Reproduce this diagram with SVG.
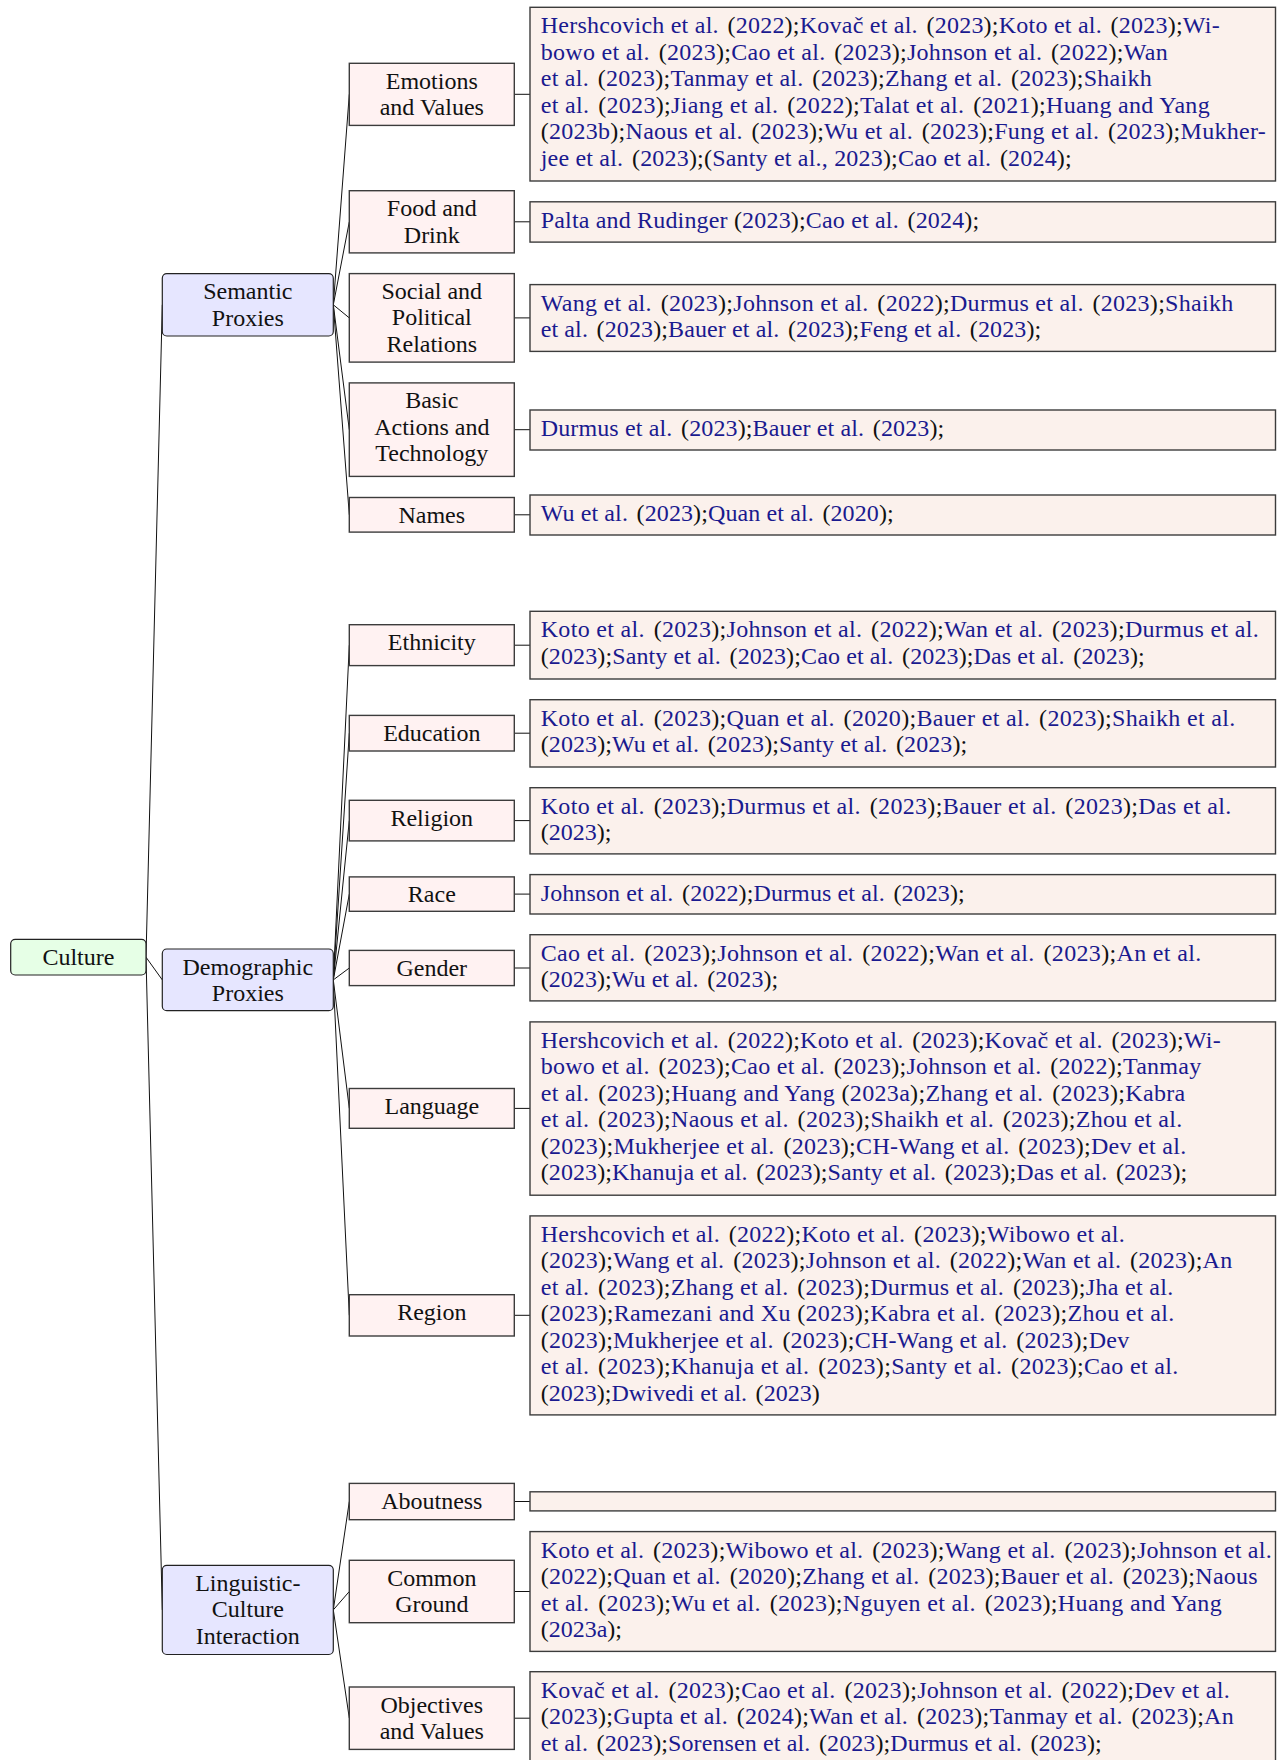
<svg xmlns="http://www.w3.org/2000/svg" width="1277" height="1760" viewBox="0 0 1277 1760">
<style>
.bg{fill:#ffffff}
.l0{fill:#e6ffe6;stroke:#222;stroke-width:1.2}
.l1{fill:#e6e6ff;stroke:#222;stroke-width:1.2}
.l2{fill:#fff2f2;stroke:#3c3c3c;stroke-width:1.4}
.lf{fill:#fbf1ec;stroke:#3c3c3c;stroke-width:1.4}
.t{font-family:"Liberation Serif","Times New Roman",serif;font-size:24px;fill:#111;text-anchor:middle}
.c{font-family:"Liberation Serif","Times New Roman",serif;font-size:24px;fill:#1a1a8f}
.k{fill:#111}
.ln{stroke:#111;stroke-width:1;fill:none}
</style>
<rect class="bg" x="0" y="0" width="1277" height="1760"/>
<g id="connectors">
<path class="ln" d="M146,957.2 L162.3,304.8 M146,957.2 L162.3,979.9 M146,957.2 L162.3,1609.9"/>
<path class="ln" d="M333.3,304.8 L349.3,94.3 M333.3,304.8 L349.3,221.8 M333.3,304.8 L349.3,317.9 M333.3,304.8 L349.3,429.7 M333.3,304.8 L349.3,514.8"/>
<path class="ln" d="M333.3,979.9 L349.3,645.2 M333.3,979.9 L349.3,733.2 M333.3,979.9 L349.3,820.6 M333.3,979.9 L349.3,894.1 M333.3,979.9 L349.3,968 M333.3,979.9 L349.3,1108.4 M333.3,979.9 L349.3,1315.3"/>
<path class="ln" d="M333.3,1609.9 L349.3,1501.5 M333.3,1609.9 L349.3,1591.5 M333.3,1609.9 L349.3,1718.2"/>
<path class="ln" d="M514.3,94.3 H530 M514.3,221.8 H530 M514.3,317.9 H530 M514.3,429.7 H530 M514.3,514.8 H530 M514.3,645.2 H530 M514.3,733.2 H530 M514.3,820.6 H530 M514.3,894.1 H530 M514.3,968 H530 M514.3,1108.4 H530 M514.3,1315.3 H530 M514.3,1501.5 H530 M514.3,1591.5 H530 M514.3,1718.2 H530"/>
</g>
<g id="culture"><rect class="l0" x="10.7" y="939.3" width="135.3" height="35.7" rx="4.5"/><text class="t" x="78.4" y="965">Culture</text></g>
<g id="semantic"><rect class="l1" x="162.3" y="273.7" width="171" height="62.3" rx="4.5"/><text class="t" x="247.8" y="299.3">Semantic</text><text class="t" x="247.8" y="325.6">Proxies</text></g>
<g id="demographic"><rect class="l1" x="162.3" y="949" width="171" height="61.7" rx="4.5"/><text class="t" x="247.8" y="974.6">Demographic</text><text class="t" x="247.8" y="1000.9">Proxies</text></g>
<g id="linguistic"><rect class="l1" x="162.3" y="1565.3" width="171" height="89.2" rx="4.5"/><text class="t" x="247.8" y="1590.9">Linguistic-</text><text class="t" x="247.8" y="1617.2">Culture</text><text class="t" x="247.8" y="1643.5">Interaction</text></g>

<g id="emotions"><rect class="l2" x="349.3" y="63.3" width="165" height="62.1"/><text class="t" x="431.8" y="88.8">Emotions</text><text class="t" x="431.8" y="115.1">and Values</text></g>
<g id="food"><rect class="l2" x="349.3" y="190.7" width="165" height="62.2"/><text class="t" x="431.8" y="216.2">Food and</text><text class="t" x="431.8" y="242.5">Drink</text></g>
<g id="social"><rect class="l2" x="349.3" y="273.6" width="165" height="88.5"/><text class="t" x="431.8" y="299.1">Social and</text><text class="t" x="431.8" y="325.4">Political</text><text class="t" x="431.8" y="351.7">Relations</text></g>
<g id="basic"><rect class="l2" x="349.3" y="382.9" width="165" height="93.5"/><text class="t" x="431.8" y="408.4">Basic</text><text class="t" x="431.8" y="434.7">Actions and</text><text class="t" x="431.8" y="461">Technology</text></g>
<g id="names"><rect class="l2" x="349.3" y="497.5" width="165" height="34.6"/><text class="t" x="431.8" y="523">Names</text></g>
<g id="ethnicity"><rect class="l2" x="349.3" y="624.7" width="165" height="40.9"/><text class="t" x="431.8" y="650.2">Ethnicity</text></g>
<g id="education"><rect class="l2" x="349.3" y="715.4" width="165" height="35.6"/><text class="t" x="431.8" y="740.9">Education</text></g>
<g id="religion"><rect class="l2" x="349.3" y="800.3" width="165" height="40.6"/><text class="t" x="431.8" y="825.8">Religion</text></g>
<g id="race"><rect class="l2" x="349.3" y="876.9" width="165" height="34.4"/><text class="t" x="431.8" y="902.4">Race</text></g>
<g id="gender"><rect class="l2" x="349.3" y="950.4" width="165" height="35.2"/><text class="t" x="431.8" y="975.9">Gender</text></g>
<g id="language"><rect class="l2" x="349.3" y="1088.5" width="165" height="39.8"/><text class="t" x="431.8" y="1114">Language</text></g>
<g id="region"><rect class="l2" x="349.3" y="1294.7" width="165" height="41.3"/><text class="t" x="431.8" y="1320.2">Region</text></g>
<g id="aboutness"><rect class="l2" x="349.3" y="1483.4" width="165" height="36.3"/><text class="t" x="431.8" y="1508.9">Aboutness</text></g>
<g id="common"><rect class="l2" x="349.3" y="1560.3" width="165" height="62.4"/><text class="t" x="431.8" y="1585.8">Common</text><text class="t" x="431.8" y="1612.1">Ground</text></g>
<g id="objectives"><rect class="l2" x="349.3" y="1687" width="165" height="62.4"/><text class="t" x="431.8" y="1712.5">Objectives</text><text class="t" x="431.8" y="1738.8">and Values</text></g>

<g id="leaf-emotions"><rect class="lf" x="530" y="7.3" width="745.5" height="173.7"/>
<text class="c" x="540.7" y="33.3" textLength="679" lengthAdjust="spacing">Hershcovich et al. <tspan class="k" dx="2.5">(</tspan>2022<tspan class="k">);</tspan>Kovač et al. <tspan class="k" dx="2.5">(</tspan>2023<tspan class="k">);</tspan>Koto et al. <tspan class="k" dx="2.5">(</tspan>2023<tspan class="k">);</tspan>Wi-</text>
<text class="c" x="540.7" y="59.8" textLength="627" lengthAdjust="spacing">bowo et al. <tspan class="k" dx="2.5">(</tspan>2023<tspan class="k">);</tspan>Cao et al. <tspan class="k" dx="2.5">(</tspan>2023<tspan class="k">);</tspan>Johnson et al. <tspan class="k" dx="2.5">(</tspan>2022<tspan class="k">);</tspan>Wan</text>
<text class="c" x="540.7" y="86.3" textLength="611" lengthAdjust="spacing">et al. <tspan class="k" dx="2.5">(</tspan>2023<tspan class="k">);</tspan>Tanmay et al. <tspan class="k" dx="2.5">(</tspan>2023<tspan class="k">);</tspan>Zhang et al. <tspan class="k" dx="2.5">(</tspan>2023<tspan class="k">);</tspan>Shaikh</text>
<text class="c" x="540.7" y="112.8" textLength="669" lengthAdjust="spacing">et al. <tspan class="k" dx="2.5">(</tspan>2023<tspan class="k">);</tspan>Jiang et al. <tspan class="k" dx="2.5">(</tspan>2022<tspan class="k">);</tspan>Talat et al. <tspan class="k" dx="2.5">(</tspan>2021<tspan class="k">);</tspan>Huang and Yang</text>
<text class="c" x="540.7" y="139.3" textLength="725" lengthAdjust="spacing"><tspan class="k">(</tspan>2023b<tspan class="k">);</tspan>Naous et al. <tspan class="k" dx="2.5">(</tspan>2023<tspan class="k">);</tspan>Wu et al. <tspan class="k" dx="2.5">(</tspan>2023<tspan class="k">);</tspan>Fung et al. <tspan class="k" dx="2.5">(</tspan>2023<tspan class="k">);</tspan>Mukher-</text>
<text class="c" x="540.7" y="165.8" textLength="531" lengthAdjust="spacing">jee et al. <tspan class="k" dx="2.5">(</tspan>2023<tspan class="k">);(</tspan>Santy et al., 2023<tspan class="k">);</tspan>Cao et al. <tspan class="k" dx="2.5">(</tspan>2024<tspan class="k">);</tspan></text>
</g>
<g id="leaf-food"><rect class="lf" x="530" y="201.8" width="745.5" height="40.3"/>
<text class="c" x="540.7" y="227.8" textLength="438.5" lengthAdjust="spacing">Palta and Rudinger <tspan class="k">(</tspan>2023<tspan class="k">);</tspan>Cao et al. <tspan class="k" dx="2.5">(</tspan>2024<tspan class="k">);</tspan></text>
</g>
<g id="leaf-social"><rect class="lf" x="530" y="284.6" width="745.5" height="66.8"/>
<text class="c" x="540.7" y="310.6" textLength="692.5" lengthAdjust="spacing">Wang et al. <tspan class="k" dx="2.5">(</tspan>2023<tspan class="k">);</tspan>Johnson et al. <tspan class="k" dx="2.5">(</tspan>2022<tspan class="k">);</tspan>Durmus et al. <tspan class="k" dx="2.5">(</tspan>2023<tspan class="k">);</tspan>Shaikh</text>
<text class="c" x="540.7" y="337.1" textLength="500.5" lengthAdjust="spacing">et al. <tspan class="k" dx="2.5">(</tspan>2023<tspan class="k">);</tspan>Bauer et al. <tspan class="k" dx="2.5">(</tspan>2023<tspan class="k">);</tspan>Feng et al. <tspan class="k" dx="2.5">(</tspan>2023<tspan class="k">);</tspan></text>
</g>
<g id="leaf-basic"><rect class="lf" x="530" y="410" width="745.5" height="40"/>
<text class="c" x="540.7" y="436" textLength="403.5" lengthAdjust="spacing">Durmus et al. <tspan class="k" dx="2.5">(</tspan>2023<tspan class="k">);</tspan>Bauer et al. <tspan class="k" dx="2.5">(</tspan>2023<tspan class="k">);</tspan></text>
</g>
<g id="leaf-names"><rect class="lf" x="530" y="495" width="745.5" height="40"/>
<text class="c" x="540.7" y="521" textLength="353" lengthAdjust="spacing">Wu et al. <tspan class="k" dx="2.5">(</tspan>2023<tspan class="k">);</tspan>Quan et al. <tspan class="k" dx="2.5">(</tspan>2020<tspan class="k">);</tspan></text>
</g>
<g id="leaf-ethnicity"><rect class="lf" x="530" y="611.3" width="745.5" height="67.7"/>
<text class="c" x="540.7" y="637.3" textLength="718" lengthAdjust="spacing">Koto et al. <tspan class="k" dx="2.5">(</tspan>2023<tspan class="k">);</tspan>Johnson et al. <tspan class="k" dx="2.5">(</tspan>2022<tspan class="k">);</tspan>Wan et al. <tspan class="k" dx="2.5">(</tspan>2023<tspan class="k">);</tspan>Durmus et al.</text>
<text class="c" x="540.7" y="663.8" textLength="604" lengthAdjust="spacing"><tspan class="k">(</tspan>2023<tspan class="k">);</tspan>Santy et al. <tspan class="k" dx="2.5">(</tspan>2023<tspan class="k">);</tspan>Cao et al. <tspan class="k" dx="2.5">(</tspan>2023<tspan class="k">);</tspan>Das et al. <tspan class="k" dx="2.5">(</tspan>2023<tspan class="k">);</tspan></text>
</g>
<g id="leaf-education"><rect class="lf" x="530" y="699.7" width="745.5" height="67.3"/>
<text class="c" x="540.7" y="725.7" textLength="694.5" lengthAdjust="spacing">Koto et al. <tspan class="k" dx="2.5">(</tspan>2023<tspan class="k">);</tspan>Quan et al. <tspan class="k" dx="2.5">(</tspan>2020<tspan class="k">);</tspan>Bauer et al. <tspan class="k" dx="2.5">(</tspan>2023<tspan class="k">);</tspan>Shaikh et al.</text>
<text class="c" x="540.7" y="752.2" textLength="426.5" lengthAdjust="spacing"><tspan class="k">(</tspan>2023<tspan class="k">);</tspan>Wu et al. <tspan class="k" dx="2.5">(</tspan>2023<tspan class="k">);</tspan>Santy et al. <tspan class="k" dx="2.5">(</tspan>2023<tspan class="k">);</tspan></text>
</g>
<g id="leaf-religion"><rect class="lf" x="530" y="787.7" width="745.5" height="66.2"/>
<text class="c" x="540.7" y="813.7" textLength="690.5" lengthAdjust="spacing">Koto et al. <tspan class="k" dx="2.5">(</tspan>2023<tspan class="k">);</tspan>Durmus et al. <tspan class="k" dx="2.5">(</tspan>2023<tspan class="k">);</tspan>Bauer et al. <tspan class="k" dx="2.5">(</tspan>2023<tspan class="k">);</tspan>Das et al.</text>
<text class="c" x="540.7" y="840.2"><tspan class="k">(</tspan>2023<tspan class="k">);</tspan></text>
</g>
<g id="leaf-race"><rect class="lf" x="530" y="874.6" width="745.5" height="39.4"/>
<text class="c" x="540.7" y="900.6" textLength="424" lengthAdjust="spacing">Johnson et al. <tspan class="k" dx="2.5">(</tspan>2022<tspan class="k">);</tspan>Durmus et al. <tspan class="k" dx="2.5">(</tspan>2023<tspan class="k">);</tspan></text>
</g>
<g id="leaf-gender"><rect class="lf" x="530" y="934.7" width="745.5" height="66.2"/>
<text class="c" x="540.7" y="960.7" textLength="660.5" lengthAdjust="spacing">Cao et al. <tspan class="k" dx="2.5">(</tspan>2023<tspan class="k">);</tspan>Johnson et al. <tspan class="k" dx="2.5">(</tspan>2022<tspan class="k">);</tspan>Wan et al. <tspan class="k" dx="2.5">(</tspan>2023<tspan class="k">);</tspan>An et al.</text>
<text class="c" x="540.7" y="987.2" textLength="237.5" lengthAdjust="spacing"><tspan class="k">(</tspan>2023<tspan class="k">);</tspan>Wu et al. <tspan class="k" dx="2.5">(</tspan>2023<tspan class="k">);</tspan></text>
</g>
<g id="leaf-language"><rect class="lf" x="530" y="1021.9" width="745.5" height="173.3"/>
<text class="c" x="540.7" y="1047.9" textLength="680" lengthAdjust="spacing">Hershcovich et al. <tspan class="k" dx="2.5">(</tspan>2022<tspan class="k">);</tspan>Koto et al. <tspan class="k" dx="2.5">(</tspan>2023<tspan class="k">);</tspan>Kovač et al. <tspan class="k" dx="2.5">(</tspan>2023<tspan class="k">);</tspan>Wi-</text>
<text class="c" x="540.7" y="1074.4" textLength="660.5" lengthAdjust="spacing">bowo et al. <tspan class="k" dx="2.5">(</tspan>2023<tspan class="k">);</tspan>Cao et al. <tspan class="k" dx="2.5">(</tspan>2023<tspan class="k">);</tspan>Johnson et al. <tspan class="k" dx="2.5">(</tspan>2022<tspan class="k">);</tspan>Tanmay</text>
<text class="c" x="540.7" y="1100.9" textLength="644.5" lengthAdjust="spacing">et al. <tspan class="k" dx="2.5">(</tspan>2023<tspan class="k">);</tspan>Huang and Yang <tspan class="k">(</tspan>2023a<tspan class="k">);</tspan>Zhang et al. <tspan class="k" dx="2.5">(</tspan>2023<tspan class="k">);</tspan>Kabra</text>
<text class="c" x="540.7" y="1127.4" textLength="641.5" lengthAdjust="spacing">et al. <tspan class="k" dx="2.5">(</tspan>2023<tspan class="k">);</tspan>Naous et al. <tspan class="k" dx="2.5">(</tspan>2023<tspan class="k">);</tspan>Shaikh et al. <tspan class="k" dx="2.5">(</tspan>2023<tspan class="k">);</tspan>Zhou et al.</text>
<text class="c" x="540.7" y="1153.9" textLength="645.5" lengthAdjust="spacing"><tspan class="k">(</tspan>2023<tspan class="k">);</tspan>Mukherjee et al. <tspan class="k" dx="2.5">(</tspan>2023<tspan class="k">);</tspan>CH-Wang et al. <tspan class="k" dx="2.5">(</tspan>2023<tspan class="k">);</tspan>Dev et al.</text>
<text class="c" x="540.7" y="1180.4" textLength="646.5" lengthAdjust="spacing"><tspan class="k">(</tspan>2023<tspan class="k">);</tspan>Khanuja et al. <tspan class="k" dx="2.5">(</tspan>2023<tspan class="k">);</tspan>Santy et al. <tspan class="k" dx="2.5">(</tspan>2023<tspan class="k">);</tspan>Das et al. <tspan class="k" dx="2.5">(</tspan>2023<tspan class="k">);</tspan></text>
</g>
<g id="leaf-region"><rect class="lf" x="530" y="1215.9" width="745.5" height="199"/>
<text class="c" x="540.7" y="1241.9" textLength="584" lengthAdjust="spacing">Hershcovich et al. <tspan class="k" dx="2.5">(</tspan>2022<tspan class="k">);</tspan>Koto et al. <tspan class="k" dx="2.5">(</tspan>2023<tspan class="k">);</tspan>Wibowo et al.</text>
<text class="c" x="540.7" y="1268.4" textLength="691.5" lengthAdjust="spacing"><tspan class="k">(</tspan>2023<tspan class="k">);</tspan>Wang et al. <tspan class="k" dx="2.5">(</tspan>2023<tspan class="k">);</tspan>Johnson et al. <tspan class="k" dx="2.5">(</tspan>2022<tspan class="k">);</tspan>Wan et al. <tspan class="k" dx="2.5">(</tspan>2023<tspan class="k">);</tspan>An</text>
<text class="c" x="540.7" y="1294.9" textLength="632.5" lengthAdjust="spacing">et al. <tspan class="k" dx="2.5">(</tspan>2023<tspan class="k">);</tspan>Zhang et al. <tspan class="k" dx="2.5">(</tspan>2023<tspan class="k">);</tspan>Durmus et al. <tspan class="k" dx="2.5">(</tspan>2023<tspan class="k">);</tspan>Jha et al.</text>
<text class="c" x="540.7" y="1321.4" textLength="633.5" lengthAdjust="spacing"><tspan class="k">(</tspan>2023<tspan class="k">);</tspan>Ramezani and Xu <tspan class="k">(</tspan>2023<tspan class="k">);</tspan>Kabra et al. <tspan class="k" dx="2.5">(</tspan>2023<tspan class="k">);</tspan>Zhou et al.</text>
<text class="c" x="540.7" y="1347.9" textLength="588.5" lengthAdjust="spacing"><tspan class="k">(</tspan>2023<tspan class="k">);</tspan>Mukherjee et al. <tspan class="k" dx="2.5">(</tspan>2023<tspan class="k">);</tspan>CH-Wang et al. <tspan class="k" dx="2.5">(</tspan>2023<tspan class="k">);</tspan>Dev</text>
<text class="c" x="540.7" y="1374.4" textLength="637.5" lengthAdjust="spacing">et al. <tspan class="k" dx="2.5">(</tspan>2023<tspan class="k">);</tspan>Khanuja et al. <tspan class="k" dx="2.5">(</tspan>2023<tspan class="k">);</tspan>Santy et al. <tspan class="k" dx="2.5">(</tspan>2023<tspan class="k">);</tspan>Cao et al.</text>
<text class="c" x="540.7" y="1400.9" textLength="279" lengthAdjust="spacing"><tspan class="k">(</tspan>2023<tspan class="k">);</tspan>Dwivedi et al. <tspan class="k" dx="2.5">(</tspan>2023<tspan class="k">)</tspan></text>
</g>
<g id="leaf-aboutness"><rect class="lf" x="530" y="1491.8" width="745.5" height="19.1"/></g>
<g id="leaf-common"><rect class="lf" x="530" y="1531.6" width="745.5" height="119.8"/>
<text class="c" x="540.7" y="1557.6" textLength="731" lengthAdjust="spacing">Koto et al. <tspan class="k" dx="2.5">(</tspan>2023<tspan class="k">);</tspan>Wibowo et al. <tspan class="k" dx="2.5">(</tspan>2023<tspan class="k">);</tspan>Wang et al. <tspan class="k" dx="2.5">(</tspan>2023<tspan class="k">);</tspan>Johnson et al.</text>
<text class="c" x="540.7" y="1584.1" textLength="717" lengthAdjust="spacing"><tspan class="k">(</tspan>2022<tspan class="k">);</tspan>Quan et al. <tspan class="k" dx="2.5">(</tspan>2020<tspan class="k">);</tspan>Zhang et al. <tspan class="k" dx="2.5">(</tspan>2023<tspan class="k">);</tspan>Bauer et al. <tspan class="k" dx="2.5">(</tspan>2023<tspan class="k">);</tspan>Naous</text>
<text class="c" x="540.7" y="1610.6" textLength="681" lengthAdjust="spacing">et al. <tspan class="k" dx="2.5">(</tspan>2023<tspan class="k">);</tspan>Wu et al. <tspan class="k" dx="2.5">(</tspan>2023<tspan class="k">);</tspan>Nguyen et al. <tspan class="k" dx="2.5">(</tspan>2023<tspan class="k">);</tspan>Huang and Yang</text>
<text class="c" x="540.7" y="1637.1"><tspan class="k">(</tspan>2023a<tspan class="k">);</tspan></text>
</g>
<g id="leaf-objectives"><rect class="lf" x="530" y="1671.7" width="745.5" height="94"/>
<text class="c" x="540.7" y="1697.7" textLength="689" lengthAdjust="spacing">Kovač et al. <tspan class="k" dx="2.5">(</tspan>2023<tspan class="k">);</tspan>Cao et al. <tspan class="k" dx="2.5">(</tspan>2023<tspan class="k">);</tspan>Johnson et al. <tspan class="k" dx="2.5">(</tspan>2022<tspan class="k">);</tspan>Dev et al.</text>
<text class="c" x="540.7" y="1724.2" textLength="693" lengthAdjust="spacing"><tspan class="k">(</tspan>2023<tspan class="k">);</tspan>Gupta et al. <tspan class="k" dx="2.5">(</tspan>2024<tspan class="k">);</tspan>Wan et al. <tspan class="k" dx="2.5">(</tspan>2023<tspan class="k">);</tspan>Tanmay et al. <tspan class="k" dx="2.5">(</tspan>2023<tspan class="k">);</tspan>An</text>
<text class="c" x="540.7" y="1750.7" textLength="561" lengthAdjust="spacing">et al. <tspan class="k" dx="2.5">(</tspan>2023<tspan class="k">);</tspan>Sorensen et al. <tspan class="k" dx="2.5">(</tspan>2023<tspan class="k">);</tspan>Durmus et al. <tspan class="k" dx="2.5">(</tspan>2023<tspan class="k">);</tspan></text>
</g>
</svg>
